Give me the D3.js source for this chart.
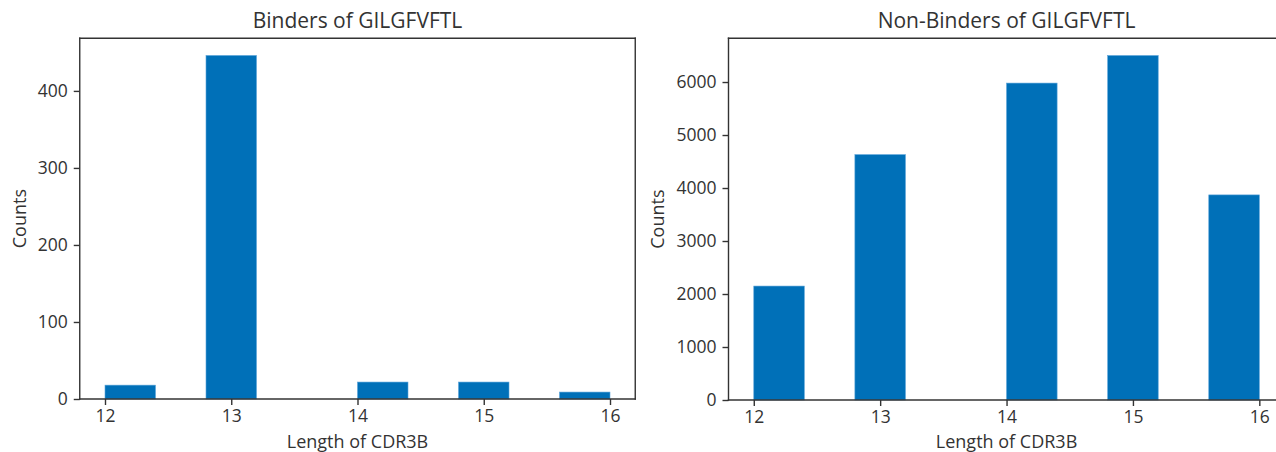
<!DOCTYPE html>
<html>
<head>
<meta charset="utf-8">
<script src="https://cdn.jsdelivr.net/npm/d3@7"></script>
<style>
  html, body { margin: 0; padding: 0; background: #fff; overflow: hidden; }
  svg { display: block; overflow: hidden; }
  text { font-family: "Open Sans", "DejaVu Sans", sans-serif; fill: #333; }
</style>
</head>
<body>
<svg id="chart" width="1276" height="452"></svg>
<script>
// Histogram bins (lower edges), width of each bin
const binLower = [12.0, 12.4, 12.8, 13.2, 13.6, 14.0, 14.4, 14.8, 15.2, 15.6];
const binWidth = 0.4;

// Counts per bin
const binderCounts = [18, 0, 446, 0, 0, 22, 0, 22, 0, 9];
const nonBinderCounts = [2150, 0, 4630, 0, 0, 5980, 0, 6500, 0, 3870];

// Axis ticks
const xTicks = [12, 13, 14, 15, 16];
const binderYTicks = [0, 100, 200, 300, 400];
const nonBinderYTicks = [0, 1000, 2000, 3000, 4000, 5000, 6000];

const titles = ["Binders of GILGFVFTL", "Non-Binders of GILGFVFTL"];
const xLabel = "Length of CDR3B";
const yLabel = "Counts";

const barColor = "#0070b8";
const axisColor = "#333";
const W = 1276;

const svg = d3.select("#chart");

function drawPanel(opts) {
  const { left, right, top, bottom, counts, yTicks, title, yLabelX } = opts;
  const g = svg.append("g");

  const x = d3.scaleLinear().domain([11.8, 16.2]).range([left, right]);
  const yMax = d3.max(counts) * 1.05;
  const y = d3.scaleLinear().domain([0, yMax]).range([bottom, top]);

  // bars
  g.selectAll("rect.bar")
    .data(binLower.map((lo, i) => ({ lo, c: counts[i] })).filter(d => d.c > 0))
    .join("rect")
    .attr("class", "bar")
    .attr("x", d => x(d.lo))
    .attr("width", d => x(d.lo + binWidth) - x(d.lo))
    .attr("y", d => y(d.c))
    .attr("height", d => y(0) - y(d.c))
    .attr("fill", barColor)
    .attr("stroke", "#5aa3d9")
    .attr("stroke-width", 0.6);

  // x axis
  const xAxis = d3.axisBottom(x).tickValues(xTicks).tickSize(6).tickPadding(5)
    .tickFormat(d3.format("d"));
  const gx = g.append("g").attr("transform", `translate(0,${bottom})`).call(xAxis);

  // y axis
  const yAxis = d3.axisLeft(y).tickValues(yTicks).tickSize(6).tickPadding(6)
    .tickFormat(d3.format("d"));
  const gy = g.append("g").attr("transform", `translate(${left},0)`).call(yAxis);

  [gx, gy].forEach(a => {
    a.select(".domain").remove();
    a.selectAll(".tick line").attr("stroke", axisColor).attr("stroke-width", 1.4);
    a.selectAll(".tick text").style("font-size", "17.5px").attr("fill", "#333");
  });

  // frame (spines); a right spine past the drawing edge is left out
  const xEnd = Math.min(right, W);
  const spines = [
    [left, top, xEnd, top],
    [left, bottom, xEnd, bottom],
    [left, top, left, bottom]
  ];
  if (right < W) spines.push([right, top, right, bottom]);
  g.selectAll("line.spine")
    .data(spines)
    .join("line")
    .attr("class", "spine")
    .attr("x1", d => d[0]).attr("y1", d => d[1])
    .attr("x2", d => d[2]).attr("y2", d => d[3])
    .attr("stroke", axisColor)
    .attr("stroke-width", 1.4)
    .attr("stroke-linecap", "square");

  // title
  g.append("text")
    .attr("x", (left + right) / 2)
    .attr("y", 28)
    .attr("text-anchor", "middle")
    .style("font-size", "21px")
    .text(title);

  // x label
  g.append("text")
    .attr("x", (left + right) / 2)
    .attr("y", 447.5)
    .attr("text-anchor", "middle")
    .style("font-size", "18px")
    .text(xLabel);

  // y label
  g.append("text")
    .attr("transform", `translate(${yLabelX},${(top + bottom) / 2}) rotate(-90)`)
    .attr("text-anchor", "middle")
    .style("font-size", "18px")
    .text(yLabel);
}

drawPanel({
  left: 79.75, right: 635.25, top: 38.3, bottom: 399,
  counts: binderCounts, yTicks: binderYTicks, title: titles[0], yLabelX: 26
});

drawPanel({
  left: 728.5, right: 1284.6, top: 38.3, bottom: 400,
  counts: nonBinderCounts, yTicks: nonBinderYTicks, title: titles[1], yLabelX: 664
});
</script>
</body>
</html>
